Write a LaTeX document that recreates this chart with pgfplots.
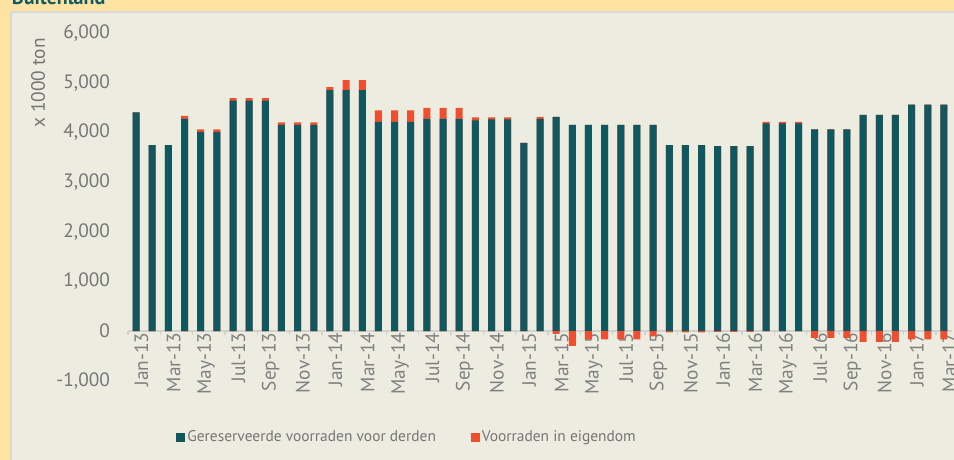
\documentclass[border=0pt]{standalone}
\usepackage{pgfplots}
\pgfplotsset{compat=1.18}
\usepackage{pgfplotstable}
\usepackage{fontspec}
\setmainfont{PT Sans}
\setsansfont{PT Sans}
\definecolor{tealc}{HTML}{10585F}
\definecolor{orangec}{HTML}{F04E30}
\definecolor{bgpanel}{HTML}{EDECE1}
\definecolor{bgouter}{HTML}{FFE3A3}
\definecolor{txtgray}{HTML}{767676}
\definecolor{titleteal}{HTML}{0F5A64}

\pgfplotstableread{
idx teal own
0 4400 0
1 3740 0
2 3740 0
3 4270 60
4 4010 50
5 4010 50
6 4640 50
7 4640 50
8 4640 50
9 4150 50
10 4150 50
11 4150 50
12 4850 60
13 4850 200
14 4850 200
15 4210 230
16 4210 230
17 4210 230
18 4270 220
19 4270 220
20 4270 220
21 4240 60
22 4260 40
23 4260 40
24 3790 0
25 4270 40
26 4310 -60
27 4150 -300
28 4150 -170
29 4150 -170
30 4150 -170
31 4150 -170
32 4150 -110
33 3740 -30
34 3740 -30
35 3740 -30
36 3720 -20
37 3720 -20
38 3720 -20
39 4180 30
40 4180 30
41 4180 30
42 4060 -140
43 4060 -140
44 4060 -140
45 4350 -220
46 4350 -220
47 4350 -220
48 4560 -170
49 4560 -170
50 4560 -170
}\data

\begin{document}
\begin{tikzpicture}
\path[use as bounding box] (0,0) rectangle (715.5pt,-345pt);
\begin{scope}
\clip (0,0) rectangle (715.5pt,-345pt);
\fill[bgouter] (0,0) rectangle (715.5pt,-345pt);
\fill[bgpanel] (8.25pt,-9pt) rectangle (720pt,-350pt);
\draw[black!15, line width=1.5pt] (8.25pt,-350pt) -- (8.25pt,-9pt) -- (720pt,-9pt);
\node[anchor=base west, font=\bfseries\fontsize{15}{17}\selectfont, text=titleteal, inner sep=0] at (8.75pt,-3.75pt) {Buitenland};
\end{scope}
\node[rotate=90, font=\fontsize{14.5}{16}\selectfont, text=txtgray] at (28.5pt,-62.3pt) {x 1000 ton};
\begin{axis}[
  at={(96pt,-285.5pt)}, anchor=south west,
  scale only axis, width=618pt, height=260.75pt,
  xmin=-0.5, xmax=50.5, ymin=-1000, ymax=6000,
  axis x line=middle, axis y line=left,
  x axis line style={-, draw=black!18, line width=1.1pt},
  y axis line style={draw=none},
  hide obscured x ticks=false, hide obscured y ticks=false,
  ytick={-1000,0,...,6000},
  scaled y ticks=false,
  yticklabel style={/pgf/number format/assume math mode=true, /pgf/number format/1000 sep={,}, font=\fontsize{14.5}{16}\selectfont, text=txtgray, anchor=east, xshift=-10pt},
  xtick={0,2,...,50},
  xticklabels={Jan-13,Mar-13,May-13,Jul-13,Sep-13,Nov-13,Jan-14,Mar-14,May-14,Jul-14,Sep-14,Nov-14,Jan-15,Mar-15,May-15,Jul-15,Sep-15,Nov-15,Jan-16,Mar-16,May-16,Jul-16,Sep-16,Nov-16,Jan-17,Mar-17},
  xticklabel style={rotate=90, anchor=east, font=\fontsize{14.5}{16}\selectfont, text=black!50, inner sep=1pt, yshift=-4pt},
  major tick length=0pt,
  extra x ticks={-0.5,1.5,...,50.5},
  extra x tick labels={},
  extra x tick style={major tick length=3pt, tick align=outside, tick style={draw=black!18, line width=1pt}},
  ybar, bar width=5.25pt,
  legend style={at={(0.339,-0.162)}, anchor=center, draw=none, fill=none, legend columns=2, font=\fontsize{11.6}{14}\selectfont, text=txtgray, /tikz/every even column/.append style={column sep=24pt}},
  legend cell align=left,
  clip=false,
]
\addlegendimage{legend image code/.code={\fill[tealc] (0pt,-3pt) rectangle (6pt,3pt);}}
\addlegendentry{Gereserveerde voorraden voor derden}
\addlegendimage{legend image code/.code={\fill[orangec] (0pt,-3pt) rectangle (6pt,3pt);}}
\addlegendentry{Voorraden in eigendom}
\addplot[ybar, bar shift=0pt, bar width=5.25pt, fill=orangec, draw=none, forget plot] table[x=idx, y expr={\thisrow{teal}+max(\thisrow{own},0)}] {\data};
\addplot[ybar, bar shift=0pt, bar width=5.25pt, fill=tealc, draw=none, forget plot] table[x=idx, y=teal] {\data};
\addplot[ybar, bar shift=0pt, bar width=5.25pt, fill=orangec, draw=none, forget plot] table[x=idx, y expr={min(\thisrow{own},0)}] {\data};
\end{axis}
\end{tikzpicture}
\end{document}
